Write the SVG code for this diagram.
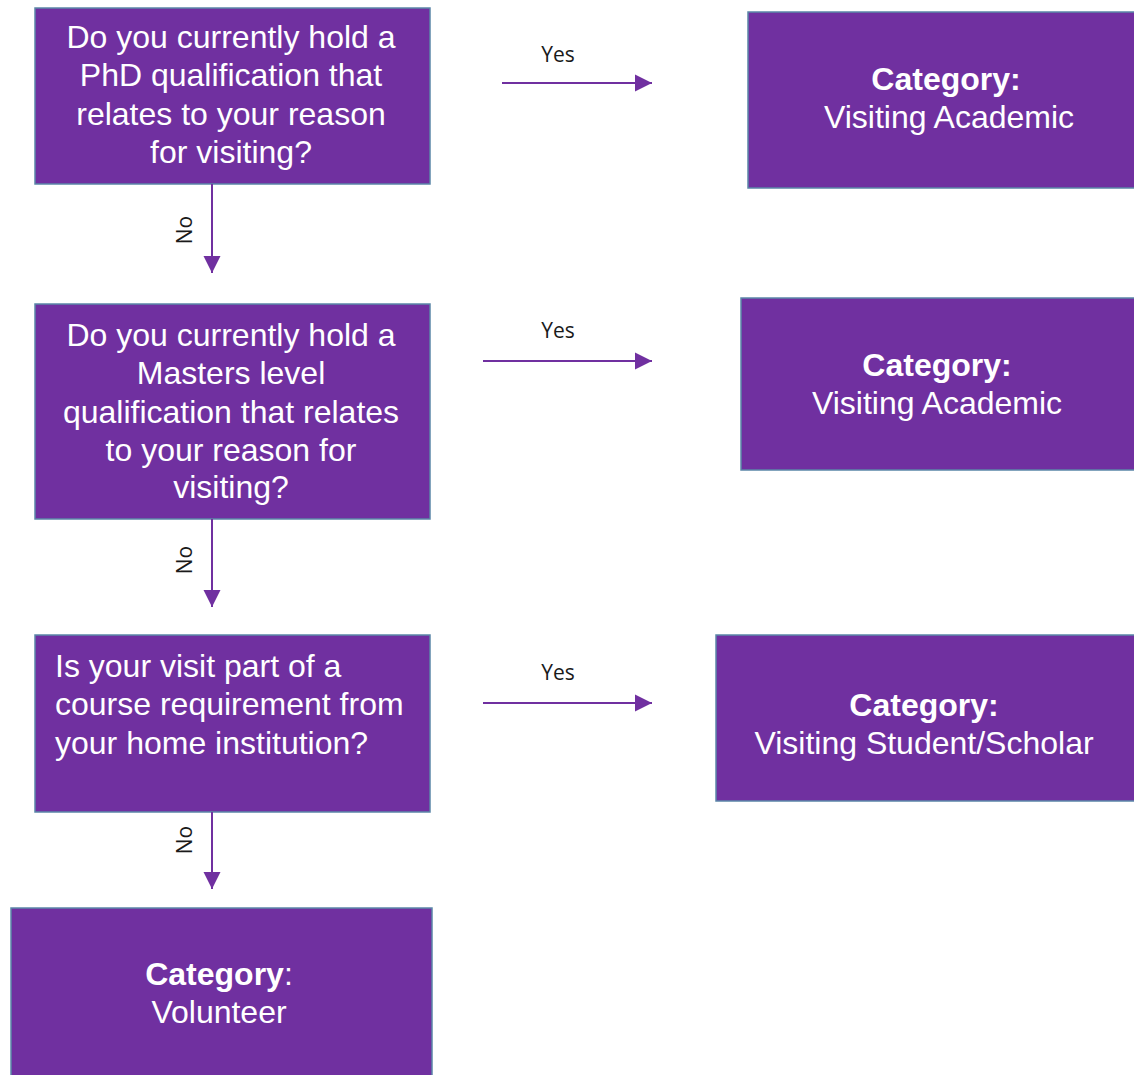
<svg xmlns="http://www.w3.org/2000/svg" width="1134" height="1075" viewBox="0 0 1134 1075">
<defs>
<style>
.box{fill:#7030A0;stroke:#5B86A8;stroke-width:1.5}
.t{font-family:"Liberation Sans",Arial,sans-serif;font-size:32px;fill:#ffffff;text-anchor:middle}
.tl{font-family:"Liberation Sans",Arial,sans-serif;font-size:32px;fill:#ffffff}
.b{font-weight:bold}
.conn{stroke:#7030A0;stroke-width:2;fill:none}
.lbl{font-family:"Open Sans","Liberation Sans",sans-serif;font-size:21px;fill:#1a1a1a;text-anchor:middle}
</style>
<marker id="ahv" viewBox="0 0 10 10" refX="10" refY="5" markerWidth="17" markerHeight="18" markerUnits="userSpaceOnUse" orient="auto">
<path d="M0,0 L10,5 L0,10 z" fill="#7030A0"/>
</marker>
</defs>
<rect width="1134" height="1075" fill="#ffffff"/>
<g id="q1">
<rect class="box" x="35" y="8" width="395" height="176"/>
<text class="t" x="231" y="48">Do you currently hold a</text>
<text class="t" x="231" y="86">PhD qualification that</text>
<text class="t" x="231" y="125">relates to your reason</text>
<text class="t" x="231" y="163">for visiting?</text>
</g>
<g id="r1">
<rect class="box" x="748" y="12" width="400" height="176"/>
<text class="t b" x="946" y="90">Category:</text>
<text class="t" x="949" y="128">Visiting Academic</text>
</g>
<g id="q2">
<rect class="box" x="35" y="304" width="395" height="215"/>
<text class="t" x="231" y="346">Do you currently hold a</text>
<text class="t" x="231" y="384">Masters level</text>
<text class="t" x="231" y="423">qualification that relates</text>
<text class="t" x="231" y="461">to your reason for</text>
<text class="t" x="231" y="498">visiting?</text>
</g>
<g id="r2">
<rect class="box" x="741" y="298" width="410" height="172"/>
<text class="t b" x="937" y="376">Category:</text>
<text class="t" x="937" y="414">Visiting Academic</text>
</g>
<g id="q3">
<rect class="box" x="35" y="635" width="395" height="177"/>
<text class="tl" x="55" y="677">Is your visit part of a</text>
<text class="tl" x="55" y="715">course requirement from</text>
<text class="tl" x="55" y="754">your home institution?</text>
</g>
<g id="r3">
<rect class="box" x="716" y="635" width="430" height="166"/>
<text class="t b" x="924" y="716">Category:</text>
<text class="t" x="924" y="754">Visiting Student/Scholar</text>
</g>
<g id="r4">
<rect class="box" x="11" y="908" width="421" height="180"/>
<text class="t" x="219" y="985"><tspan class="b">Category</tspan>:</text>
<text class="t" x="219" y="1023">Volunteer</text>
</g>
<g id="connectors">
<line class="conn" x1="502" y1="83" x2="652" y2="83" marker-end="url(#ahv)"/>
<text class="lbl" x="558" y="62">Yes</text>
<line class="conn" x1="212" y1="184" x2="212" y2="273" marker-end="url(#ahv)"/>
<text class="lbl" transform="translate(192,230) rotate(-90)">No</text>
<line class="conn" x1="483" y1="361" x2="652" y2="361" marker-end="url(#ahv)"/>
<text class="lbl" x="558" y="338">Yes</text>
<line class="conn" x1="212" y1="519" x2="212" y2="607" marker-end="url(#ahv)"/>
<text class="lbl" transform="translate(192,560) rotate(-90)">No</text>
<line class="conn" x1="483" y1="703" x2="652" y2="703" marker-end="url(#ahv)"/>
<text class="lbl" x="558" y="680">Yes</text>
<line class="conn" x1="212" y1="812" x2="212" y2="889" marker-end="url(#ahv)"/>
<text class="lbl" transform="translate(192,840) rotate(-90)">No</text>
</g>
</svg>
